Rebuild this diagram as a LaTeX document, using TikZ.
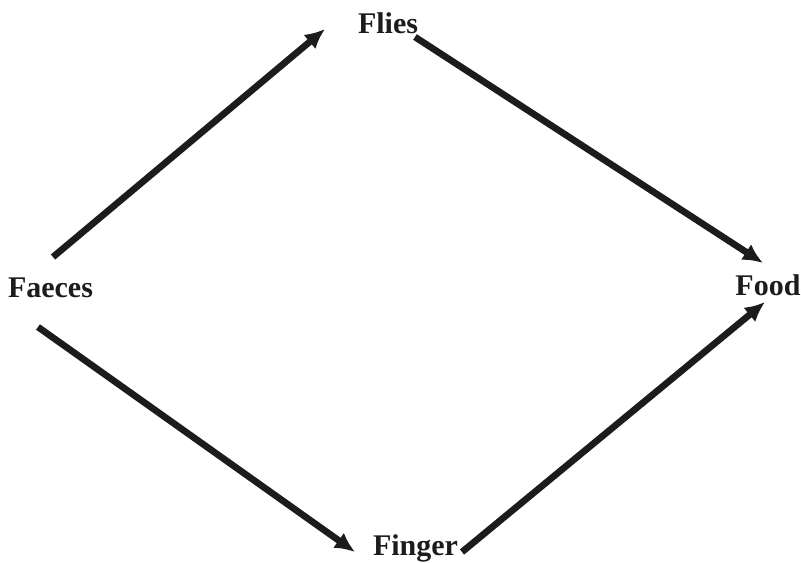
\documentclass[tikz,border=0pt]{standalone}
\usepackage{fontspec}
\setmainfont{Liberation Serif}
\usetikzlibrary{arrows.meta}
\definecolor{ink}{HTML}{1C1C1C}
\tikzset{
  word/.style={font=\bfseries\fontsize{22.5pt}{26pt}\selectfont, text=ink, inner sep=0pt, anchor=base},
  flow/.style={-{Latex[length=15pt,width=14pt]}, line width=5pt, draw=ink}
}

\begin{document}
\begin{tikzpicture}[x=0.75pt,y=-0.75pt]
  \useasboundingbox (0,0) rectangle (801,562);

  \node[word] (faeces) at (50.5,297) {Faeces};
  \node[word] (flies) at (388,33) {Flies};
  \node[word] (food) at (768,295) {Food};
  \node[word] (finger) at (415.5,555) {Finger};

  \draw[flow] ([shift={(2.5,-40)}]faeces.base) -- ([shift={(-63,-4)}]flies.base);
  \draw[flow] ([shift={(27,4)}]flies.base) -- ([shift={(-5,-32)}]food.base);
  \draw[flow] ([shift={(-12.5,30)}]faeces.base) -- ([shift={(-60.5,-3)}]finger.base);
  \draw[flow] ([shift={(46.5,-3)}]finger.base) -- ([shift={(-3,7)}]food.base);
\end{tikzpicture}
\end{document}
